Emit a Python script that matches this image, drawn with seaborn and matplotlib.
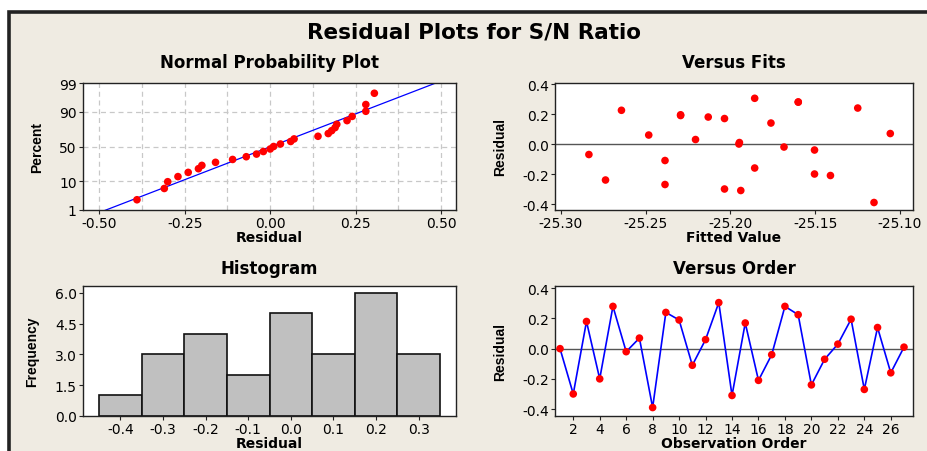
import numpy as np
import pandas as pd
import seaborn as sns
import matplotlib.pyplot as plt
from matplotlib.patches import Rectangle
from statistics import NormalDist

sns.set_theme(style="ticks")
plt.rcParams["font.family"] = ["DejaVu Sans"]
plt.rcParams["text.color"] = "black"
plt.rcParams["axes.labelcolor"] = "black"

order = list(range(1, 28))
residual = [0.00, -0.30, 0.18, -0.20, 0.28, -0.02, 0.07, -0.39, 0.24,
            0.19, -0.11, 0.06, 0.305, -0.31, 0.17, -0.21, -0.04, 0.28,
            0.225, -0.24, -0.07, 0.03, 0.195, -0.27, 0.14, -0.16, 0.01]
# fitted values matched to each observation ("Versus Fits" panel)
fitted = [-25.1950, -25.2035, -25.2131, -25.1504, -25.1600, -25.1684,
          -25.1057, -25.1153, -25.1249, -25.2294, -25.2386, -25.2482,
          -25.1857, -25.1939, -25.2035, -25.1410, -25.1504, -25.1600,
          -25.2643, -25.2737, -25.2835, -25.2206, -25.2294, -25.2386,
          -25.1761, -25.1857, -25.1947]

pct_ticks = [1, 10, 50, 90, 99]
resid_ticks = [-0.50, -0.25, 0.00, 0.25, 0.50]
fit_ticks = [-25.30, -25.25, -25.20, -25.15, -25.10]
hist_edges = [-0.45, -0.35, -0.25, -0.15, -0.05, 0.05, 0.15, 0.25, 0.35]
hist_ticks = [-0.4, -0.3, -0.2, -0.1, 0.0, 0.1, 0.2, 0.3]
freq_ticks = [0.0, 1.5, 3.0, 4.5, 6.0]
order_ticks = list(range(2, 27, 2))
res_ticks = [-0.4, -0.2, 0.0, 0.2, 0.4]

df = pd.DataFrame({"order": order, "residual": residual, "fitted": fitted})

BG = "#efebe2"
RED = "#ff0000"
BLUE = "#0000ff"
nd = NormalDist()

fig = plt.figure(figsize=(9.28, 4.52), dpi=100, facecolor="white")
fig.patches.append(Rectangle((9 / 928, -0.1), 1.2, 1.1 - 13 / 452,
                             transform=fig.transFigure, facecolor=BG,
                             edgecolor="#222222", linewidth=2.6, zorder=-10))

fig.text(0.511, 1 - 33 / 452, "Residual Plots for S/N Ratio", ha="center",
         va="center", fontsize=15.5, fontweight="bold")

ax_pp = fig.add_axes([83 / 928, 1 - 211 / 452, 373 / 928, 127 / 452])
ax_fit = fig.add_axes([555 / 928, 1 - 211 / 452, 358 / 928, 127 / 452])
ax_hist = fig.add_axes([83 / 928, 1 - 417 / 452, 373 / 928, 130 / 452])
ax_ord = fig.add_axes([555 / 928, 1 - 417 / 452, 358 / 928, 130 / 452])


def style_ax(ax, title, xlabel, ylabel, tpad=9):
    ax.set_facecolor("white")
    for sp in ax.spines.values():
        sp.set_visible(True)
        sp.set_color("#222222")
        sp.set_linewidth(1.0)
    ax.tick_params(direction="out", length=3, width=0.8, color="#222222",
                   labelsize=10, pad=1.5, labelcolor="black")
    ax.set_title(title, fontsize=12, fontweight="bold", pad=tpad)
    ax.set_xlabel(xlabel, fontsize=10, fontweight="bold", labelpad=0)
    ax.set_ylabel(ylabel, fontsize=10, fontweight="bold", labelpad=11,
                  family=["Liberation Sans"])


# normal probability plot
n = len(residual)
pp = pd.DataFrame({"residual": sorted(residual)})
pp["z"] = [nd.inv_cdf((i - 0.3) / (n + 0.4)) for i in range(1, n + 1)]
mu, sd = float(np.mean(residual)), float(np.std(residual, ddof=1))
zline = np.array([-3.0, 3.0])
sns.lineplot(x=mu + sd * zline, y=zline, ax=ax_pp, color=BLUE, lw=0.9)
sns.scatterplot(data=pp, x="residual", y="z", ax=ax_pp, color=RED, s=30,
                edgecolor="none", zorder=3)
ax_pp.set_xlim(-0.548, 0.544)
ax_pp.set_ylim(nd.inv_cdf(0.01), nd.inv_cdf(0.99))
ax_pp.set_xticks(resid_ticks, [f"{v:.2f}" for v in resid_ticks])
ax_pp.set_yticks([nd.inv_cdf(p / 100) for p in pct_ticks],
                 [str(p) for p in pct_ticks])
for gx in np.arange(-0.5, 0.51, 0.125):
    ax_pp.axvline(gx, color="#c8c8c8", ls=(0, (4, 3)), lw=0.9, zorder=0)
for p in [10, 50, 90]:
    ax_pp.axhline(nd.inv_cdf(p / 100), color="#c8c8c8", ls=(0, (4, 3)),
                  lw=0.9, zorder=0)
style_ax(ax_pp, "Normal Probability Plot", "Residual", "Percent", tpad=11.5)

# versus fits
sns.scatterplot(data=df, x="fitted", y="residual", ax=ax_fit, color=RED,
                s=30, edgecolor="none", zorder=3)
ax_fit.axhline(0, color="#555555", lw=1.0, zorder=1)
ax_fit.set_xlim(-25.3035, -25.0923)
ax_fit.set_ylim(-0.44, 0.407)
ax_fit.set_xticks(fit_ticks, [f"{v:.2f}" for v in fit_ticks])
ax_fit.set_yticks(res_ticks, [f"{v:.1f}" for v in res_ticks])
style_ax(ax_fit, "Versus Fits", "Fitted Value", "Residual", tpad=11.5)

# histogram
sns.histplot(data=df, x="residual", bins=hist_edges, ax=ax_hist,
             color="#c0c0c0", edgecolor="#111111", linewidth=1.2, alpha=1)
ax_hist.set_xlim(-0.4876, 0.3876)
ax_hist.set_ylim(0, 6.34)
ax_hist.set_xticks(hist_ticks, [f"{v:.1f}" for v in hist_ticks])
ax_hist.set_yticks(freq_ticks, [f"{v:.1f}" for v in freq_ticks])
style_ax(ax_hist, "Histogram", "Residual", "Frequency")

# versus order
sns.lineplot(data=df, x="order", y="residual", ax=ax_ord, color=BLUE,
             lw=1.2, zorder=2)
sns.scatterplot(data=df, x="order", y="residual", ax=ax_ord, color=RED,
                s=30, edgecolor="none", zorder=3)
ax_ord.axhline(0, color="#555555", lw=1.0, zorder=1)
ax_ord.set_xlim(0.62, 27.68)
ax_ord.set_ylim(-0.446, 0.415)
ax_ord.set_xticks(order_ticks, [str(v) for v in order_ticks])
ax_ord.set_yticks(res_ticks, [f"{v:.1f}" for v in res_ticks])
style_ax(ax_ord, "Versus Order", "Observation Order", "Residual")

fig.savefig("out.png", dpi=100, facecolor=fig.get_facecolor())
